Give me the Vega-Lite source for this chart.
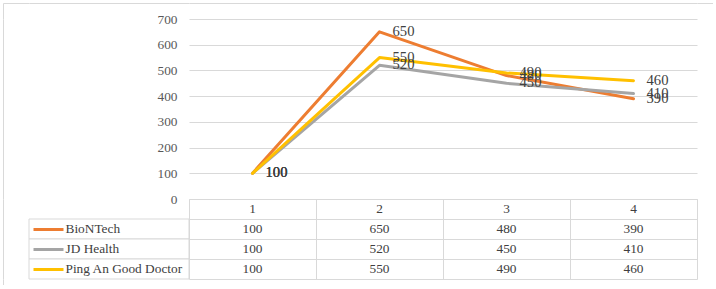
{
  "$schema": "https://vega.github.io/schema/vega-lite/v6.json",
  "padding": {"left": 3, "top": 3, "right": 0, "bottom": 0},
  "background": "white",
  "config": {
    "view": {"stroke": null},
    "font": "Liberation Serif",
    "text": {"font": "Liberation Serif"},
    "axis": {"labelFont": "Liberation Serif", "domainColor": "#d9d9d9", "domainWidth": 1}
  },
  "datasets": {
    "z": [{"v": 0}],
    "d": [
      {"series": "BioNTech", "cat": 1, "value": 100},
      {"series": "BioNTech", "cat": 2, "value": 650},
      {"series": "BioNTech", "cat": 3, "value": 480},
      {"series": "BioNTech", "cat": 4, "value": 390},
      {"series": "JD Health", "cat": 1, "value": 100},
      {"series": "JD Health", "cat": 2, "value": 520},
      {"series": "JD Health", "cat": 3, "value": 450},
      {"series": "JD Health", "cat": 4, "value": 410},
      {"series": "Ping An Good Doctor", "cat": 1, "value": 100},
      {"series": "Ping An Good Doctor", "cat": 2, "value": 550},
      {"series": "Ping An Good Doctor", "cat": 3, "value": 490},
      {"series": "Ping An Good Doctor", "cat": 4, "value": 460}
    ]
  },
  "columns": 4,
  "spacing": 0,
  "bounds": "flush",
  "align": "each",
  "concat": [
    {"width": 26, "height": 16, "data": {"name": "z"}, "mark": {"type": "point", "opacity": 0},
      "encoding": {
        "x": {"field": "v", "type": "quantitative", "axis": {"orient": "top", "labels": false, "ticks": false, "grid": false, "title": null}},
        "y": {"field": "v", "type": "quantitative", "axis": {"orient": "left", "labels": false, "ticks": false, "grid": false, "title": null}}}},
    {"width": 160, "height": 16, "data": {"name": "z"}, "mark": {"type": "point", "opacity": 0},
      "encoding": {
        "x": {"field": "v", "type": "quantitative", "axis": {"orient": "top", "labels": false, "ticks": false, "grid": false, "title": null}}}},
    {"width": 508, "height": 16, "data": {"name": "z"}, "mark": {"type": "point", "opacity": 0},
      "encoding": {
        "x": {"field": "v", "type": "quantitative", "axis": {"orient": "top", "labels": false, "ticks": false, "grid": false, "title": null}}}},
    {"width": 16, "height": 16, "data": {"name": "z"}, "mark": {"type": "point", "opacity": 0},
      "encoding": {
        "x": {"field": "v", "type": "quantitative", "axis": {"orient": "top", "labels": false, "ticks": false, "grid": false, "title": null}},
        "y": {"field": "v", "type": "quantitative", "axis": {"orient": "right", "labels": false, "ticks": false, "grid": false, "title": null}}}},

    {"width": 26, "height": 180, "data": {"name": "z"}, "mark": {"type": "point", "opacity": 0},
      "encoding": {
        "y": {"field": "v", "type": "quantitative", "axis": {"orient": "left", "labels": false, "ticks": false, "grid": false, "title": null}}}},
    {
      "width": 160,
      "height": 180,
      "data": {"values": []},
      "mark": "point"
    },
    {
      "width": 508,
      "height": 180,
      "data": {"name": "d"},
      "encoding": {
        "x": {"field": "cat", "type": "ordinal", "scale": {"type": "point", "padding": 0.5}, "axis": null},
        "y": {
          "field": "value", "type": "quantitative",
          "scale": {"domain": [0, 700], "nice": false},
          "axis": {"values": [0, 100, 200, 300, 400, 500, 600, 700], "title": null, "ticks": false, "domain": false,
            "labelPadding": 12, "labelColor": "#595959", "labelFontSize": 13.33, "gridColor": "#d9d9d9", "gridWidth": 1}
        }
      },
      "layer": [
        {
          "mark": {"type": "line", "strokeWidth": 3, "strokeCap": "round", "strokeJoin": "round"},
          "encoding": {
            "color": {"field": "series", "type": "nominal",
              "scale": {"domain": ["BioNTech", "JD Health", "Ping An Good Doctor"], "range": ["#ED7D31", "#A5A5A5", "#FFC000"]},
              "legend": null}
          }
        },
        {
          "mark": {"type": "text", "align": "left", "baseline": "middle", "dx": 13, "fontSize": 14.67, "color": "#404040"},
          "encoding": {"text": {"field": "value", "type": "quantitative"}}
        }
      ]
    },
    {"width": 16, "height": 180, "data": {"name": "z"}, "mark": {"type": "point", "opacity": 0},
      "encoding": {
        "y": {"field": "v", "type": "quantitative", "axis": {"orient": "right", "labels": false, "ticks": false, "grid": false, "title": null}}}},

    {"width": 26, "height": 80, "data": {"name": "z"}, "mark": {"type": "point", "opacity": 0},
      "encoding": {
        "y": {"field": "v", "type": "quantitative", "axis": {"orient": "left", "labels": false, "ticks": false, "grid": false, "title": null}}}},
    {
      "width": 160,
      "height": 80,
      "data": {"name": "d"},
      "transform": [{"aggregate": [{"op": "count", "as": "n"}], "groupby": ["series"]}],
      "mark": {"type": "rect", "fill": "white", "stroke": "#d9d9d9", "strokeWidth": 1},
      "encoding": {
        "y": {
          "field": "series", "type": "nominal",
          "scale": {"domain": ["hdr", "BioNTech", "JD Health", "Ping An Good Doctor"], "paddingInner": 0, "paddingOuter": 0},
          "axis": {
            "values": ["BioNTech", "JD Health", "Ping An Good Doctor"],
            "title": null, "domain": false, "grid": false,
            "offset": -34, "tickSize": 30, "tickWidth": 3, "bandPosition": 0.5,
            "labelAlign": "left", "labelPadding": -32, "labelFontSize": 13.33, "labelColor": "#404040",
            "tickColor": {"condition": [{"test": "datum.value === 'BioNTech'", "value": "#ED7D31"}, {"test": "datum.value === 'JD Health'", "value": "#A5A5A5"}], "value": "#FFC000"}
          }
        }
      }
    },
    {
      "width": 508,
      "height": 80,
      "data": {"name": "d"},
      "encoding": {
        "x": {"field": "cat", "type": "ordinal", "scale": {"paddingInner": 0, "paddingOuter": 0},
          "axis": {"grid": true, "tickBand": "extent", "labels": false, "ticks": false, "domain": false, "title": null, "gridColor": "#d9d9d9"}},
        "y": {"field": "series", "type": "nominal",
          "scale": {"domain": ["hdr", "BioNTech", "JD Health", "Ping An Good Doctor"], "paddingInner": 0, "paddingOuter": 0},
          "axis": {"grid": true, "tickBand": "extent", "labels": false, "ticks": false, "domain": false, "title": null, "gridColor": "#d9d9d9"}}
      },
      "layer": [
        {
          "mark": {"type": "text", "fontSize": 13.33, "color": "#404040"},
          "encoding": {"text": {"field": "value", "type": "quantitative"}}
        },
        {
          "transform": [{"aggregate": [{"op": "count", "as": "n"}], "groupby": ["cat"]}],
          "mark": {"type": "text", "fontSize": 13.33, "color": "#404040"},
          "encoding": {"y": {"datum": "hdr"}, "text": {"field": "cat", "type": "ordinal"}}
        }
      ]
    },
    {"width": 16, "height": 80, "data": {"name": "z"}, "mark": {"type": "point", "opacity": 0},
      "encoding": {
        "y": {"field": "v", "type": "quantitative", "axis": {"orient": "right", "labels": false, "ticks": false, "grid": false, "title": null}}}},

    {"width": 26, "height": 6, "data": {"name": "z"}, "mark": {"type": "point", "opacity": 0},
      "encoding": {
        "x": {"field": "v", "type": "quantitative", "axis": {"orient": "bottom", "labels": false, "ticks": false, "grid": false, "title": null}},
        "y": {"field": "v", "type": "quantitative", "axis": {"orient": "left", "labels": false, "ticks": false, "grid": false, "title": null}}}},
    {"width": 160, "height": 6, "data": {"name": "z"}, "mark": {"type": "point", "opacity": 0},
      "encoding": {
        "x": {"field": "v", "type": "quantitative", "axis": {"orient": "bottom", "labels": false, "ticks": false, "grid": false, "title": null}}}},
    {"width": 508, "height": 6, "data": {"name": "z"}, "mark": {"type": "point", "opacity": 0},
      "encoding": {
        "x": {"field": "v", "type": "quantitative", "axis": {"orient": "bottom", "labels": false, "ticks": false, "grid": false, "title": null}}}},
    {"width": 16, "height": 6, "data": {"name": "z"}, "mark": {"type": "point", "opacity": 0},
      "encoding": {
        "x": {"field": "v", "type": "quantitative", "axis": {"orient": "bottom", "labels": false, "ticks": false, "grid": false, "title": null}},
        "y": {"field": "v", "type": "quantitative", "axis": {"orient": "right", "labels": false, "ticks": false, "grid": false, "title": null}}}}
  ]
}
